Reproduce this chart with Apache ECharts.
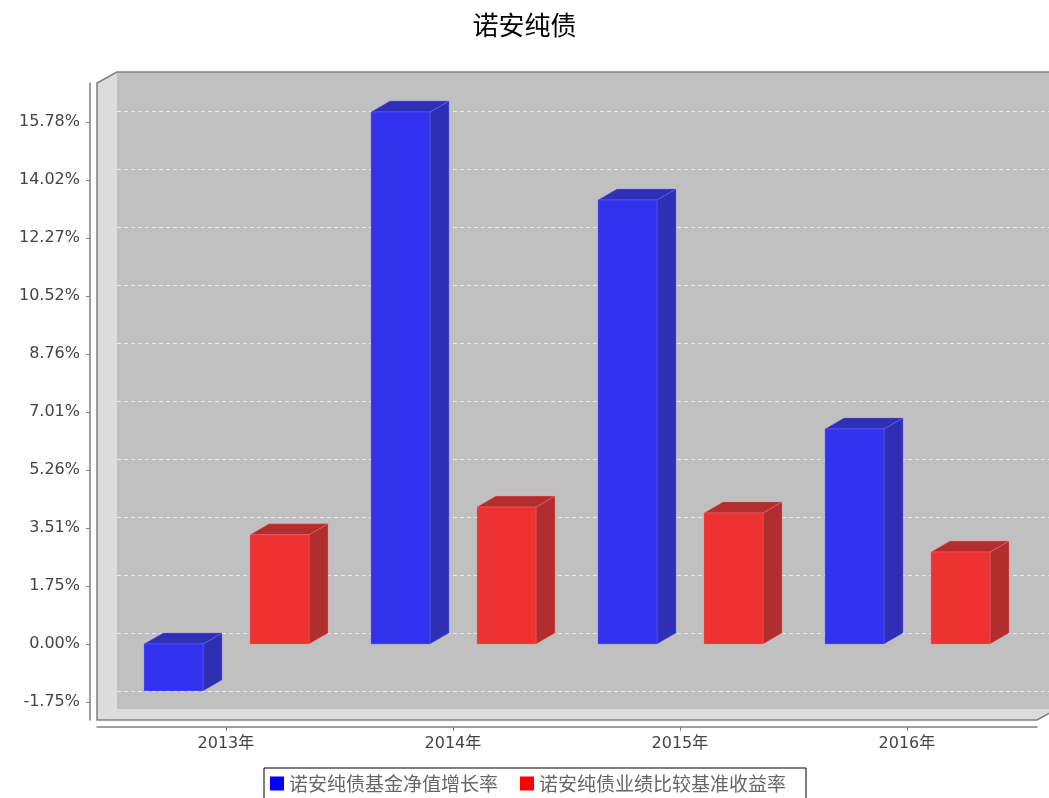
<!DOCTYPE html>
<html>
<head>
<meta charset="utf-8">
<title>诺安纯债</title>
<script src="https://cdn.jsdelivr.net/npm/echarts@6/dist/echarts.min.js"></script>
<style>
    html, body { margin: 0; padding: 0; background: #fff; }
    #bar_3d { width: 1049px; height: 798px; }
</style>
</head>
<body>
<div id="bar_3d"></div>
<script>
// Chart data
// ------------------------------

var categories = ['2013年', '2014年', '2015年', '2016年'];
var seriesNames = ['诺安纯债基金净值增长率', '诺安纯债业绩比较基准收益率'];
var fundGrowth = [-1.42, 16.08, 13.42, 6.50];
var benchmarkReturn = [3.30, 4.14, 3.96, 2.78];
var yTickValues = [-1.75, 0.00, 1.75, 3.51, 5.26, 7.01, 8.76, 10.52, 12.27, 14.02, 15.78];


// Setup module
// ------------------------------

var EchartsBar3d = function() {

    // 3D plot geometry (front plane + depth offset)
    var plotLeft = 97, plotTop = 83, plotWidth = 940, plotHeight = 637;
    var wallDx = 20, wallDy = 11;
    var barDx = 19, barDy = 11;
    var yMin = -2.297, yMax = 16.955;
    var xMin = -0.568, xMax = 3.573;

    // Bar colours: front, top, side
    var palettes = [
        { front: '#3131ee', top: '#2f2fb8', side: '#2f2fb5', edge: 'rgba(120,120,255,0.6)' },
        { front: '#ee3131', top: '#b32f2f', side: '#b02e2e', edge: 'rgba(255,120,120,0.6)' }
    ];

    // Bar front-face offsets, in category units
    var barOffsets = [-0.361, 0.106];
    var barWidth = 0.26;

    var makeRender = function(seriesIdx) {
        return function(params, api) {
            var cat = api.value(0);
            var val = api.value(1);
            var pal = palettes[seriesIdx];
            var left = cat + barOffsets[seriesIdx];
            var hi = Math.max(val, 0), lo = Math.min(val, 0);
            var p1 = api.coord([left, hi]);
            var p2 = api.coord([left + barWidth, lo]);
            var x0 = p1[0], x1 = p2[0], y0 = p1[1], y1 = p2[1];
            return {
                type: 'group',
                children: [
                    {
                        type: 'polygon',
                        shape: { points: [[x1, y0], [x1 + barDx, y0 - barDy], [x1 + barDx, y1 - barDy], [x1, y1]] },
                        style: { fill: pal.side, stroke: pal.edge, lineWidth: 0.6 }
                    },
                    {
                        type: 'polygon',
                        shape: { points: [[x0, y0], [x0 + barDx, y0 - barDy], [x1 + barDx, y0 - barDy], [x1, y0]] },
                        style: { fill: pal.top, stroke: pal.edge, lineWidth: 0.6 }
                    },
                    {
                        type: 'rect',
                        shape: { x: x0, y: y0, width: x1 - x0, height: y1 - y0 },
                        style: { fill: pal.front, stroke: pal.edge, lineWidth: 0.6 }
                    }
                ]
            };
        };
    };

    var toPairs = function(values) {
        return values.map(function(v, i) { return [i, v]; });
    };

    var _bar3dExample = function() {
        if (typeof echarts == 'undefined') {
            console.warn('Warning - echarts.min.js is not loaded.');
            return;
        }

        var bar_3d_element = document.getElementById('bar_3d');

        if (bar_3d_element) {

            var bar_3d = echarts.init(bar_3d_element, null, { renderer: 'canvas' });

            var R = plotLeft + plotWidth, B = plotTop + plotHeight;

            bar_3d.setOption({
                animation: false,
                backgroundColor: '#fff',

                textStyle: {
                    fontFamily: '"DejaVu Sans", "Noto Sans CJK SC", sans-serif'
                },

                title: {
                    text: '诺安纯债',
                    left: 'center',
                    top: 7,
                    textStyle: {
                        fontFamily: '"Noto Sans CJK SC", sans-serif',
                        fontSize: 26,
                        fontWeight: 'normal',
                        color: '#000'
                    }
                },

                legend: {
                    data: seriesNames,
                    left: 264,
                    top: 768,
                    padding: [6, 20, 8, 6],
                    itemGap: 22,
                    itemWidth: 14,
                    itemHeight: 14,
                    borderColor: '#000',
                    borderWidth: 1,
                    icon: 'rect',
                    textStyle: {
                        fontFamily: '"Noto Sans CJK SC", sans-serif',
                        fontSize: 19,
                        color: '#666'
                    }
                },

                // 3D walls and outline
                graphic: [
                    {
                        type: 'polygon',
                        z: -10,
                        silent: true,
                        shape: { points: [[plotLeft + wallDx, plotTop - wallDy], [R + wallDx, plotTop - wallDy], [R + wallDx, B - wallDy], [plotLeft + wallDx, B - wallDy]] },
                        style: { fill: '#c0c0c0' }
                    },
                    {
                        type: 'polygon',
                        z: -10,
                        silent: true,
                        shape: { points: [[plotLeft, plotTop], [plotLeft + wallDx, plotTop - wallDy], [plotLeft + wallDx, B - wallDy], [plotLeft, B]] },
                        style: { fill: '#dcdcdc' }
                    },
                    {
                        type: 'polygon',
                        z: -10,
                        silent: true,
                        shape: { points: [[plotLeft, B], [plotLeft + wallDx, B - wallDy], [R + wallDx, B - wallDy], [R, B]] },
                        style: { fill: '#dcdcdc' }
                    },
                    {
                        type: 'polyline',
                        z: 5,
                        silent: true,
                        shape: { points: [[R + wallDx, plotTop - wallDy], [plotLeft + wallDx, plotTop - wallDy], [plotLeft, plotTop], [plotLeft, B], [R, B], [R + wallDx, B - wallDy]] },
                        style: { fill: null, stroke: '#808080', lineWidth: 1.5 }
                    }
                ],

                grid: [
                    { left: plotLeft, top: plotTop, width: plotWidth, height: plotHeight },
                    { left: plotLeft + wallDx, top: plotTop - wallDy, width: plotWidth, height: plotHeight }
                ],

                xAxis: [
                    {
                        type: 'value',
                        gridIndex: 0,
                        min: xMin,
                        max: xMax,
                        offset: 7,
                        splitLine: { show: false },
                        axisLine: { show: true, onZero: false, lineStyle: { color: '#808080', width: 1.5 } },
                        axisTick: { show: true, length: 4, customValues: [0, 1, 2, 3], lineStyle: { color: '#808080' } },
                        axisLabel: {
                            customValues: [0, 1, 2, 3],
                            formatter: function(v) { return categories[Math.round(v)]; },
                            fontSize: 16,
                            color: '#444',
                            margin: 9
                        }
                    },
                    {
                        type: 'value',
                        gridIndex: 1,
                        min: xMin,
                        max: xMax,
                        show: false
                    }
                ],

                yAxis: [
                    {
                        type: 'value',
                        gridIndex: 0,
                        min: yMin,
                        max: yMax,
                        offset: 7,
                        splitLine: { show: false },
                        axisLine: { show: true, onZero: false, lineStyle: { color: '#808080', width: 1.5 } },
                        axisTick: { show: true, length: 4, customValues: yTickValues, lineStyle: { color: '#808080' } },
                        axisLabel: {
                            customValues: yTickValues,
                            formatter: function(v) { return v.toFixed(2) + '%'; },
                            fontSize: 16,
                            color: '#444',
                            margin: 10
                        }
                    },
                    {
                        type: 'value',
                        gridIndex: 1,
                        min: yMin,
                        max: yMax,
                        axisLine: { show: false },
                        axisLabel: { show: false },
                        axisTick: { show: false, customValues: yTickValues },
                        splitLine: {
                            show: true,
                            lineStyle: { color: '#e8e8e8', type: [4, 3], width: 1 }
                        }
                    }
                ],

                series: [
                    {
                        name: seriesNames[0],
                        type: 'custom',
                        xAxisIndex: 0,
                        yAxisIndex: 0,
                        itemStyle: { color: '#0000ff' },
                        renderItem: makeRender(0),
                        data: toPairs(fundGrowth),
                        z: 3
                    },
                    {
                        name: seriesNames[1],
                        type: 'custom',
                        xAxisIndex: 0,
                        yAxisIndex: 0,
                        itemStyle: { color: '#ff0000' },
                        renderItem: makeRender(1),
                        data: toPairs(benchmarkReturn),
                        z: 3
                    }
                ]
            });
        }
    };

    return {
        init: function() {
            _bar3dExample();
        }
    }
}();


// Initialize module
// ------------------------------

document.addEventListener('DOMContentLoaded', function() {
    EchartsBar3d.init();
});
</script>
</body>
</html>
